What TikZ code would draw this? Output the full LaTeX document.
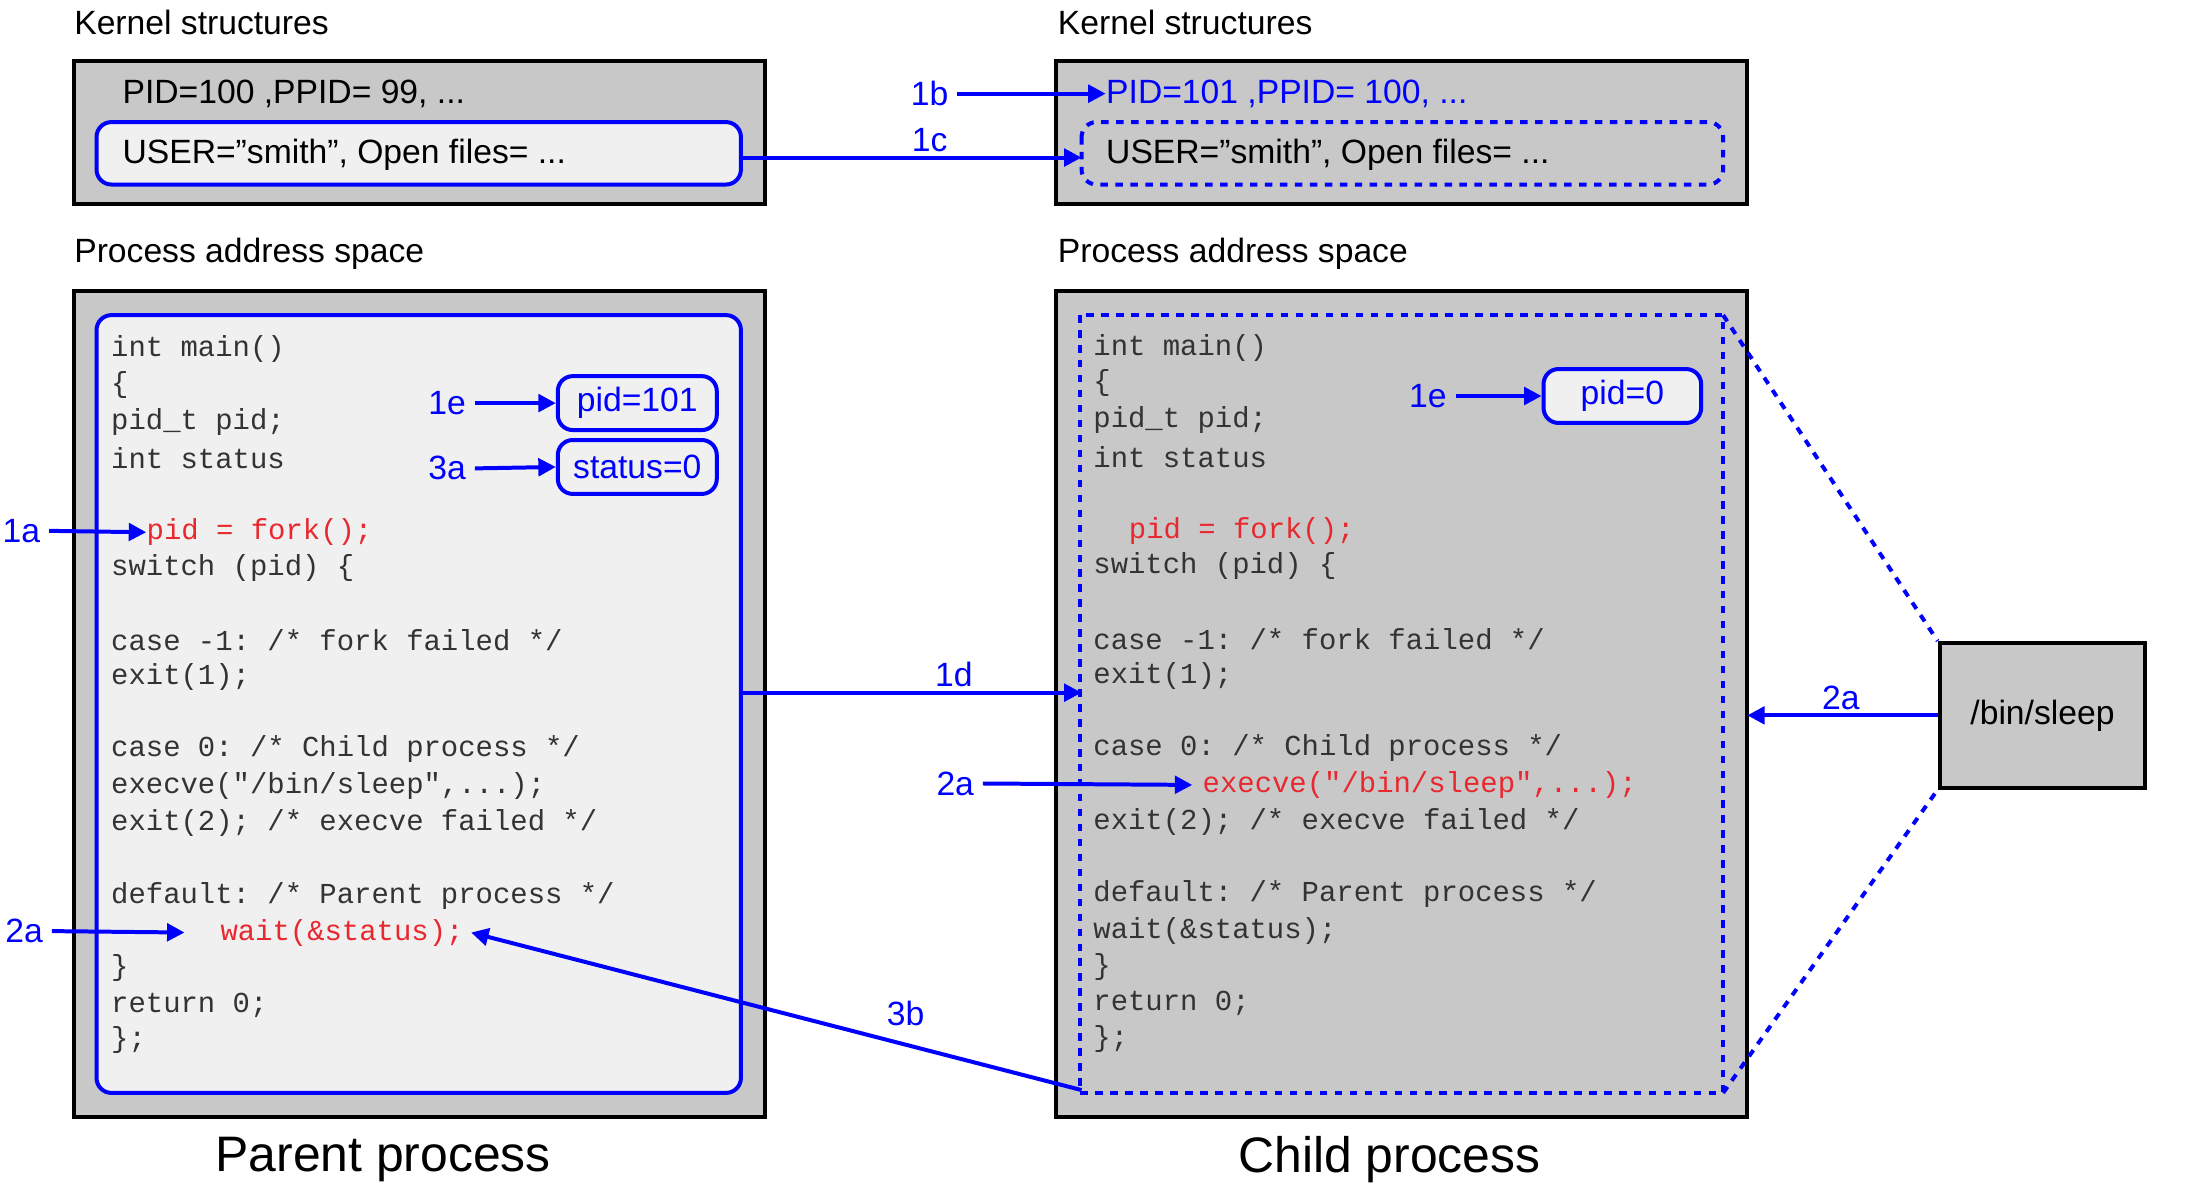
\documentclass[tikz,border=0pt]{standalone}
\usepackage{fontspec}
\setmainfont{Liberation Sans}
\setmonofont{Liberation Mono}
\usetikzlibrary{arrows.meta}
\definecolor{boxgray}{HTML}{C8C8C8}
\definecolor{codebg}{HTML}{F0F0F0}
\definecolor{codered}{HTML}{E8282E}
\tikzstyle{outer} = [draw=black, line width=1.6pt, fill=boxgray]
\tikzstyle{inner} = [draw=blue, line width=1.6pt, rounded corners=6pt]
\tikzstyle{lbl} = [anchor=west, inner sep=0pt, font=\fontsize{13.5}{16}\selectfont]
\tikzstyle{tag} = [inner sep=0pt, text=blue, font=\fontsize{13.5}{16}\selectfont]
\tikzstyle{code} = [anchor=west, inner sep=0pt, font=\ttfamily\fontsize{11.6}{14}\selectfont, text=black!80]
\tikzstyle{arr} = [draw=blue, line width=1.6pt, -{Triangle[length=7pt,width=7pt]}]
\tikzstyle{wire} = [draw=blue, line width=1.6pt]

\begin{document}
\begin{tikzpicture}[x=0.02cm, y=-0.02cm]
                \useasboundingbox (0,0) rectangle (1550,845);
                % kernel structures
                \node[lbl] (kp) at (52,16) {Kernel structures};
                \node[lbl] (kc) at (745,16) {Kernel structures};
                \draw[outer] (52,43) rectangle (539,144);
                \draw[outer] (744,43) rectangle (1231,144);
                \node[lbl] (pidp) at (86,66) {PID=100 ,PPID= 99, ...};
                \draw[inner, fill=codebg] (68,86) rectangle (522,130);
                \node[lbl] (userp) at (86,109) {USER="smith", Open files= ...};
                \node[lbl, text=blue] (pidc) at (779,66) {PID=101 ,PPID= 100, ...};
                \draw[inner, dashed] (762,86) rectangle (1214,130);
                \node[lbl] (userc) at (779,109) {USER="smith", Open files= ...};
                % address spaces
                \node[lbl] (ap) at (52,179) {Process address space};
                \node[lbl] (ac) at (745,179) {Process address space};
                \draw[outer] (52,205) rectangle (539,787);
                \draw[outer] (744,205) rectangle (1231,787);
                \draw[inner, fill=codebg] (68,222) rectangle (522,770);
                \draw[inner, dashed, rounded corners=0pt] (761,222) rectangle (1214,770);
                % parent code
                \node[code] (p1) at (78,246) {int main()};
                \node[code] (p2) at (78,271) {\{};
                \node[code] (p3) at (78,297) {pid\_t pid;};
                \node[code] (p4) at (78,323) {int status};
                \node[code, text=codered] (p5) at (103,375) {pid = fork();};
                \node[code] (p6) at (78,400) {switch (pid) \{};
                \node[code] (p7) at (78,451) {case -1: /* fork failed */};
                \node[code] (p8) at (78,477) {exit(1);};
                \node[code] (p9) at (78,528) {case 0: /* Child process */};
                \node[code] (p10) at (78,554) {execve("/bin/sleep",...);};
                \node[code] (p11) at (78,580) {exit(2); /* execve failed */};
                \node[code] (p12) at (78,631) {default: /* Parent process */};
                \node[code, text=codered] (p13) at (155,657) {wait(\&status);};
                \node[code] (p14) at (78,682) {\}};
                \node[code] (p15) at (78,708) {return 0;};
                \node[code] (p16) at (78,733) {\};};
                % child code
                \node[code] (c1) at (770,245) {int main()};
                \node[code] (c2) at (770,270) {\{};
                \node[code] (c3) at (770,296) {pid\_t pid;};
                \node[code] (c4) at (770,322) {int status};
                \node[code, text=codered] (c5) at (795,374) {pid = fork();};
                \node[code] (c6) at (770,399) {switch (pid) \{};
                \node[code] (c7) at (770,450) {case -1: /* fork failed */};
                \node[code] (c8) at (770,476) {exit(1);};
                \node[code] (c9) at (770,527) {case 0: /* Child process */};
                \node[code, text=codered] (c10) at (847,553) {execve("/bin/sleep",...);};
                \node[code] (c11) at (770,579) {exit(2); /* execve failed */};
                \node[code] (c12) at (770,630) {default: /* Parent process */};
                \node[code] (c13) at (770,656) {wait(\&status);};
                \node[code] (c14) at (770,681) {\}};
                \node[code] (c15) at (770,707) {return 0;};
                \node[code] (c16) at (770,732) {\};};
                % variable boxes
                \node[inner, fill=codebg, tag, minimum width=112*0.02cm, minimum height=38*0.02cm] (vpid) at (449,284) {pid=101};
                \node[inner, fill=codebg, tag, minimum width=112*0.02cm, minimum height=38*0.02cm] (vstat) at (449,329) {status=0};
                \node[inner, fill=codebg, tag, minimum width=111*0.02cm, minimum height=38*0.02cm] (vcpid) at (1143,279) {pid=0};
                % sleep binary
                \node[outer, minimum width=145*0.02cm, minimum height=102*0.02cm, font=\fontsize{13.5}{16}\selectfont] (sleep) at (1439,504) {/bin/sleep};
                \draw[wire, dashed] (1214,222) -- (sleep.north west);
                \draw[wire, dashed] (1214,770) -- (sleep.south west);
                % step labels and arrows
                \node[tag] (t1b) at (655,66) {1b};
                \draw[arr] (t1b.east) ++(6,0) -- (pidc.west);
                \node[tag] (t1c) at (655,99) {1c};
                \coordinate (c1cs) at (522,111);
                \coordinate (c1ce) at (762,111);
                \draw[arr] (c1cs) -- (c1ce);
                \node[tag] (t1d) at (672,475) {1d};
                \coordinate (c1ds) at (522,488);
                \coordinate (c1de) at (762,488);
                \draw[arr] (c1ds) -- (c1de);
                \node[tag] (t1e) at (315,284) {1e};
                \draw[arr] (t1e.east) ++(6,0) -- (vpid.west);
                \node[tag] (t3a) at (315,330) {3a};
                \draw[arr] (t3a.east) ++(6,0) -- (vstat.west);
                \node[tag] (t1ec) at (1006,279) {1e};
                \draw[arr] (t1ec.east) ++(6,0) -- (vcpid.west);
                \node[tag] (t1a) at (15,374) {1a};
                \draw[arr] (t1a.east) ++(6,0) -- (p5.west);
                \node[tag] (t2ap) at (17,656) {2a};
                \draw[arr] (t2ap.east) ++(6,0) -- ([xshift=-25*0.02cm]p13.west);
                \node[tag] (t2ac) at (673,552) {2a};
                \draw[arr] (t2ac.east) ++(6,0) -- ([xshift=-7*0.02cm]c10.west);
                \node[tag] (t2as) at (1297,492) {2a};
                \coordinate (c2ae) at (1231,504);
                \draw[arr] (sleep.west) -- (c2ae);
                \node[tag] (t3b) at (638,714) {3b};
                \coordinate (c3bs) at (762,768);
                \draw[arr] (c3bs) -- ([xshift=5*0.02cm]p13.east);
                % captions
                \node[font=\fontsize{20}{24}\selectfont] (capp) at (270,817) {Parent process};
                \node[font=\fontsize{20}{24}\selectfont] (capc) at (979,817) {Child process};
            \end{tikzpicture}
\end{document}
